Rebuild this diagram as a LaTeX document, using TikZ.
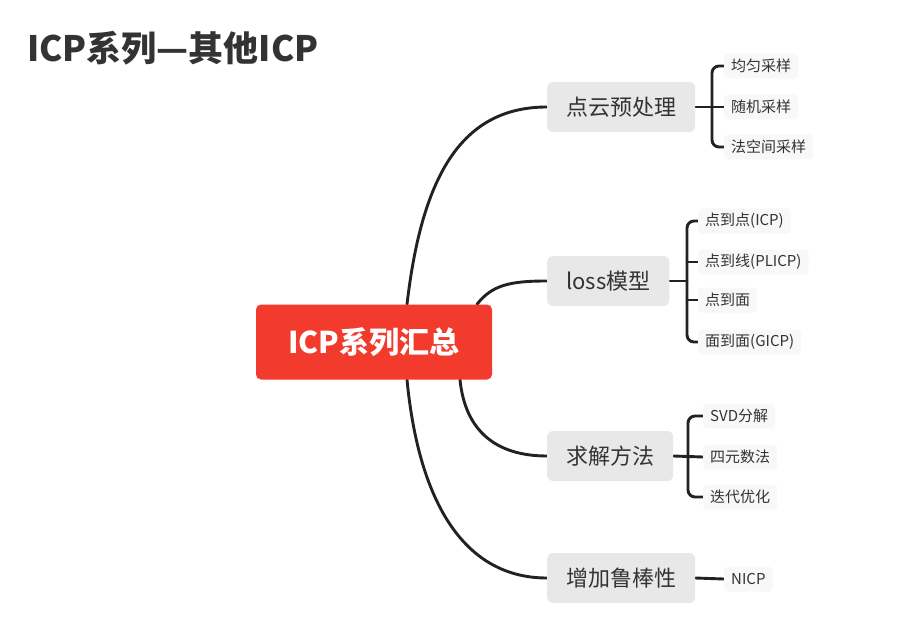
\documentclass[tikz,border=0pt]{standalone}
\usepackage{fontspec}
\setmainfont{Noto Sans CJK SC}
\usetikzlibrary{backgrounds}
\definecolor{rootred}{HTML}{F23B2C}
\definecolor{linec}{HTML}{222222}
\definecolor{branchfill}{HTML}{E8E8E8}
\definecolor{leaffill}{HTML}{F8F8F8}
\definecolor{textc}{HTML}{333333}
\begin{document}
\begin{tikzpicture}[x=1pt,y=-1pt,
  conn/.style={line width=2.9pt, draw=linec, line cap=round},
  rootbox/.style={fill=rootred, rounded corners=5pt, text=white, font=\bfseries\fontsize{30}{33}\selectfont, minimum width=236pt, minimum height=75pt, inner sep=0pt},
  branchbox/.style={fill=branchfill, rounded corners=6pt, text=textc, font=\fontsize{22}{25}\selectfont, minimum height=50pt, inner xsep=19pt, anchor=west},
  leafbox/.style={fill=leaffill, rounded corners=4pt, text=textc, font=\fontsize{15}{17}\selectfont, minimum height=25pt, inner xsep=7pt, anchor=west},
  titlestyle/.style={text=textc, font=\bfseries\fontsize{35}{39}\selectfont, anchor=west, inner sep=0pt}]
\useasboundingbox (0,0) rectangle (917,644);

\node[titlestyle] (title) at (27,48) {ICP系列—其他ICP};

\node[rootbox] (root) at (374,342) {ICP系列汇总};

\node[branchbox] (pre) at (547,107) {点云预处理};
\node[branchbox] (loss) at (547,281) {loss模型};
\node[branchbox] (solve) at (547,456) {求解方法};
\node[branchbox] (robust) at (547,578) {增加鲁棒性};

\node[leafbox] (l11) at (724,66) {均匀采样};
\node[leafbox] (l12) at (724,107) {随机采样};
\node[leafbox] (l13) at (724,147) {法空间采样};

\node[leafbox] (l21) at (698,221) {点到点(ICP)};
\node[leafbox] (l22) at (698,262) {点到线(PLICP)};
\node[leafbox] (l23) at (698,300) {点到面};
\node[leafbox] (l24) at (698,342) {面到面(GICP)};

\node[leafbox] (l31) at (703,416) {SVD分解};
\node[leafbox] (l32) at (703,457) {四元数法};
\node[leafbox] (l33) at (703,497) {迭代优化};

\node[leafbox] (l41) at (724,579) {NICP};

\coordinate (b1) at (712,107);
\coordinate (b2) at (687,281);
\coordinate (b3) at (688,457);

\begin{pgfonlayer}{background}
  \fill[white] (0,0) rectangle (917,644);
  \draw[conn] ([xshift=33pt]root.north) .. controls (422,175) and (462,107) .. (pre.west);
  \draw[conn] ([xshift=103pt]root.north) .. controls (492,285) and (510,281) .. (loss.west);
  \draw[conn] ([xshift=86pt]root.south) .. controls (465,430) and (495,456) .. (solve.west);
  \draw[conn] ([xshift=33pt]root.south) .. controls (418,495) and (460,578) .. (robust.west);

  \draw[conn, rounded corners=7pt] (l11.west) -| (b1) |- (l13.west);
  \draw[conn] (pre.east) -- (l12.west);

  \draw[conn, rounded corners=7pt] (l21.west) -| (b2) |- (l24.west);
  \draw[conn] (loss.east) -- (b2);
  \draw[conn] (l22.west) -- (l22.west -| b2);
  \draw[conn] (l23.west) -- (l23.west -| b2);

  \draw[conn, rounded corners=7pt] (l31.west) -| (b3) |- (l33.west);
  \draw[conn] (solve.east) -- (l32.west);

  \draw[conn] (robust.east) -- (l41.west);
\end{pgfonlayer}
\end{tikzpicture}
\end{document}
